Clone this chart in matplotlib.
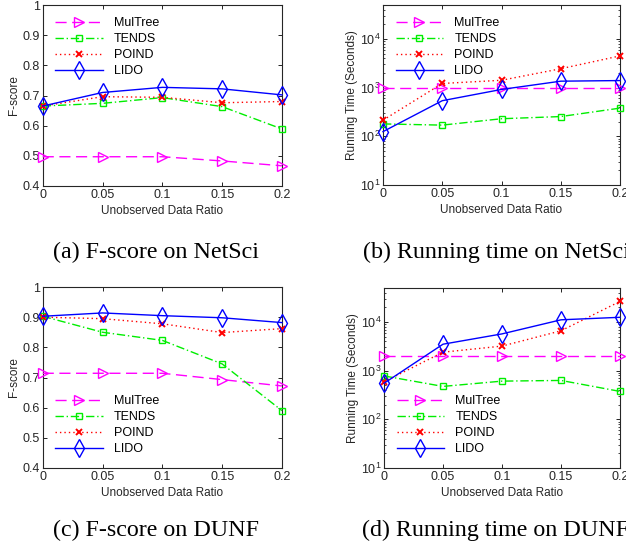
import matplotlib
matplotlib.use("Agg")
import matplotlib.pyplot as plt
from matplotlib.ticker import LogLocator, NullFormatter

plt.rcParams['font.family'] = ['Liberation Sans', 'DejaVu Sans']
plt.rcParams['mathtext.fontset'] = 'custom'
plt.rcParams['mathtext.rm'] = 'Liberation Sans'
plt.rcParams['mathtext.it'] = 'Liberation Sans'

ratios = [0, 0.05, 0.1, 0.15, 0.2]
xtick_labels = ['0', '0.05', '0.1', '0.15', '0.2']
methods = ['MulTree', 'TENDS', 'POIND', 'LIDO']

# (a) F-score on NetSci
fs_netsci = {
    'MulTree': [0.497, 0.497, 0.497, 0.483, 0.467],
    'TENDS': [0.665, 0.674, 0.693, 0.663, 0.589],
    'POIND': [0.665, 0.696, 0.694, 0.676, 0.680],
    'LIDO': [0.665, 0.710, 0.727, 0.722, 0.702],
}
# (b) running time on NetSci (seconds)
rt_netsci = {
    'MulTree': [1000, 1000, 1000, 1000, 1000],
    'TENDS': [180, 170, 230, 255, 380],
    'POIND': [215, 1220, 1420, 2450, 4500],
    'LIDO': [125, 540, 920, 1360, 1400],
}
# (c) F-score on DUNF
fs_dunf = {
    'MulTree': [0.714, 0.714, 0.714, 0.693, 0.672],
    'TENDS': [0.903, 0.850, 0.823, 0.745, 0.590],
    'POIND': [0.900, 0.895, 0.878, 0.849, 0.862],
    'LIDO': [0.903, 0.914, 0.905, 0.898, 0.882],
}
# (d) running time on DUNF (seconds)
rt_dunf = {
    'MulTree': [1980, 1980, 1980, 1980, 1980],
    'TENDS': [780, 475, 610, 630, 375],
    'POIND': [590, 2400, 3200, 6600, 26500],
    'LIDO': [550, 3500, 5700, 11100, 12500],
}

styles = {
    'MulTree': dict(color='#ff00ff', ls=(0, (8, 4)), marker='>', ms=7.5),
    'TENDS': dict(color='#00ee00', ls=(0, (6, 2, 1, 2)), marker='s', ms=4.5),
    'POIND': dict(color='#ff0000', ls=(0, (1, 2.2)), marker='x', ms=5, mew=1.4),
    'LIDO': dict(color='#0000ff', ls='-', marker='d', ms=9),
}

W, H = 626, 550
fig = plt.figure(figsize=(W / 100, H / 100), dpi=100)


def px_axes(left, right, top, bottom):
    return fig.add_axes([left / W, 1 - bottom / H, (right - left) / W, (bottom - top) / H])


def draw(ax, data, log, leg_loc, caption, cap_x, cap_y):
    for m in methods:
        st = styles[m]
        ax.plot(ratios, data[m], color=st['color'], ls=st['ls'], lw=1.0,
                marker=st['marker'], ms=st['ms'], mfc='none', mec=st['color'],
                mew=st.get('mew', 1.0), label=m, clip_on=False, zorder=3)
    ax.set_xlim(0, 0.2)
    ax.set_xticks(ratios)
    ax.set_xticklabels(xtick_labels)
    if log:
        ax.set_yscale('log')
        ax.set_ylim(10, 5e4)
        ax.set_yticks([10, 100, 1000, 10000])
        ax.set_yticklabels([r'$10^1$', r'$10^2$', r'$10^3$', r'$10^4$'])
        ax.yaxis.set_minor_locator(LogLocator(base=10, subs=range(2, 10)))
        ax.yaxis.set_minor_formatter(NullFormatter())
        ax.set_ylabel('Running Time (Seconds)', fontsize=8.5, color='#262626', labelpad=1)
    else:
        ax.set_ylim(0.4, 1.0)
        ax.set_yticks([0.4, 0.5, 0.6, 0.7, 0.8, 0.9, 1.0])
        ax.set_yticklabels(['0.4', '0.5', '0.6', '0.7', '0.8', '0.9', '1'])
        ax.set_ylabel('F-score', fontsize=8.5, color='#262626', labelpad=2)
    ax.set_xlabel('Unobserved Data Ratio', fontsize=8.5, color='#262626', labelpad=3)
    ax.tick_params(which='both', direction='in', top=True, right=True,
                   labelsize=9, labelcolor='#262626', pad=2)
    ax.tick_params(which='major', length=3, width=0.6)
    ax.tick_params(which='minor', length=1.6, width=0.5)
    for s in ax.spines.values():
        s.set_linewidth(0.8)
        s.set_color('#262626')
    ax.legend(loc=leg_loc, frameon=False, fontsize=9, handlelength=3.8,
              handletextpad=0.9, labelspacing=0.32, borderaxespad=0.6,
              borderpad=0.4)
    fig.text(cap_x / W, 1 - cap_y / H, caption, family=['Liberation Serif', 'DejaVu Serif'],
             fontsize=17.3, ha='left', va='center')


ax_a = px_axes(42.7, 282, 5, 186)
ax_b = px_axes(383, 620, 5, 185)
ax_c = px_axes(42.7, 282, 287, 468)
ax_d = px_axes(384, 620, 288, 468)

draw(ax_a, fs_netsci, False, 'upper left', '(a) F-score on NetSci', 53, 252)
draw(ax_b, rt_netsci, True, 'upper left', '(b) Running time on NetSci', 363, 252)
draw(ax_c, fs_dunf, False, 'lower left', '(c) F-score on DUNF', 53, 530)
draw(ax_d, rt_dunf, True, 'lower left', '(d) Running time on DUNF', 362, 530)

fig.savefig('out.png', dpi=100)
